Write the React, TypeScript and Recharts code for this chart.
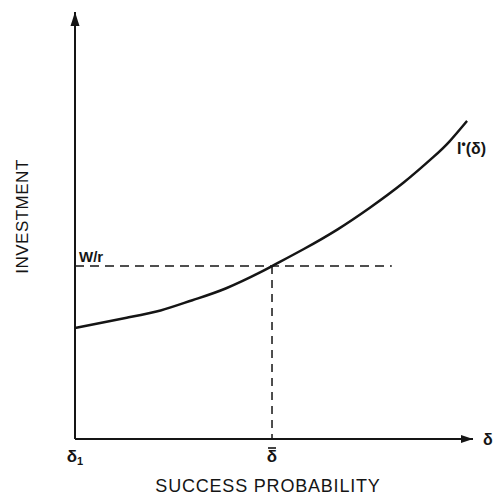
import React from 'react';
import { LineChart, Line, XAxis, YAxis, ReferenceLine, ReferenceDot, Label } from 'recharts';

// success probability (x) and optimal investment I*(δ) (y), 0-100 scale
const successProbability = [0, 13, 21.5, 29.5, 38, 46.5, 49.5, 57.5, 66, 74, 82.5, 90, 94, 98.5];
const investment = [26, 28.4, 30.1, 32.5, 35.3, 39, 40.5, 44.5, 49.1, 54.1, 60, 66, 69.6, 74.5];

const deltaBar = 49.5; // δ̄
const wealthOverR = 40.5; // W/r
const dashEnd = 79.6;
const axisTicks = [0, deltaBar];

const INK = '#151515';
const FONT = '"Liberation Sans", Arial, Helvetica, sans-serif';

const chartData = successProbability.map((d, i) => ({ delta: d, investment: investment[i] }));

const DeltaTick = ({ x, y, payload }: any) => {
  if (payload.value === 0) {
    return (
      <text x={x} y={y + 23} textAnchor="middle" fontSize={17} fontWeight="bold" fontFamily={FONT} fill={INK}>
        <tspan>δ</tspan>
        <tspan fontSize={11} dy={3}>1</tspan>
      </text>
    );
  }
  return (
    <g>
      <line x1={x - 4} x2={x + 4} y1={y + 9} y2={y + 9} stroke={INK} strokeWidth={1.6} />
      <text x={x} y={y + 23} textAnchor="middle" fontSize={17} fontWeight="bold" fontFamily={FONT} fill={INK}>
        δ
      </text>
    </g>
  );
};

const UpArrow = ({ cx, cy }: any) => (
  <polygon points={`${cx},${cy} ${cx - 4.5},${cy + 14} ${cx + 4.5},${cy + 14}`} fill={INK} />
);

const RightArrow = ({ cx, cy }: any) => (
  <g>
    <polygon points={`${cx},${cy} ${cx - 12},${cy - 4} ${cx - 12},${cy + 4}`} fill={INK} />
    <text x={cx + 10} y={cy + 6} fontSize={16} fontWeight="bold" fontFamily={FONT} fill={INK}>
      δ
    </text>
  </g>
);

const NoDot = () => <g />;

export default function App() {
  return (
    <div style={{ position: 'absolute', left: 0, top: 0, background: '#fff' }}>
      <LineChart
        width={495}
        height={504}
        data={chartData}
        margin={{ top: 12, right: 22, bottom: 8, left: 18 }}
      >
        <XAxis
          type="number"
          dataKey="delta"
          domain={[0, 100]}
          ticks={axisTicks}
          interval={0}
          height={57}
          tickSize={0}
          tickMargin={0}
          tickLine={false}
          tick={DeltaTick}
          axisLine={{ stroke: INK, strokeWidth: 2 }}
        >
          <Label
            content={({ viewBox }: any) => (
              <text
                x={viewBox.x + viewBox.width / 2 - 6}
                y={viewBox.y + viewBox.height - 4}
                textAnchor="middle"
                fontSize={18}
                letterSpacing={0.8}
                fontFamily={FONT}
                fill={INK}
              >
                SUCCESS PROBABILITY
              </text>
            )}
          />
        </XAxis>
        <YAxis
          type="number"
          domain={[0, 100]}
          width={57}
          tick={false}
          tickLine={false}
          axisLine={{ stroke: INK, strokeWidth: 2 }}
        >
          <Label
            content={({ viewBox }: any) => {
              const cx = viewBox.x + 4;
              const cy = viewBox.y + viewBox.height / 2 - 9;
              return (
                <text
                  x={cx}
                  y={cy}
                  transform={`rotate(-90, ${cx}, ${cy})`}
                  textAnchor="middle"
                  dominantBaseline="central"
                  fontSize={17}
                  letterSpacing={0.5}
                  fontFamily={FONT}
                  fill={INK}
                >
                  INVESTMENT
                </text>
              );
            }}
          />
        </YAxis>

        <ReferenceLine
          segment={[{ x: 0, y: wealthOverR }, { x: dashEnd, y: wealthOverR }]}
          stroke={INK}
          strokeWidth={1.5}
          strokeDasharray="9 6"
        >
          <Label
            value="W/r"
            position="insideBottomLeft"
            offset={4}
            fontSize={15}
            fontWeight="bold"
            fontFamily={FONT}
            fill={INK}
          />
        </ReferenceLine>
        <ReferenceLine
          segment={[{ x: deltaBar, y: wealthOverR }, { x: deltaBar, y: 0 }]}
          stroke={INK}
          strokeWidth={1.5}
          strokeDasharray="8 6"
        />

        <Line
          type="natural"
          dataKey="investment"
          stroke={INK}
          strokeWidth={2.5}
          dot={false}
          activeDot={false}
          isAnimationActive={false}
        />

        <ReferenceDot x={0} y={100} r={1} shape={UpArrow} />
        <ReferenceDot x={100} y={0} r={1} shape={RightArrow} />
        <ReferenceDot
          x={successProbability[12]}
          y={investment[12]}
          r={1}
          shape={NoDot}
        >
          <Label
            content={({ viewBox }: any) => (
              <text x={viewBox.x + 9} y={viewBox.y + 13} fontSize={16} fontWeight="bold" fontFamily={FONT} fill={INK}>
                <tspan>I</tspan>
                <tspan fontSize={12} dy={-6}>•</tspan>
                <tspan dy={6}>(δ)</tspan>
              </text>
            )}
          />
        </ReferenceDot>
      </LineChart>
    </div>
  );
}
